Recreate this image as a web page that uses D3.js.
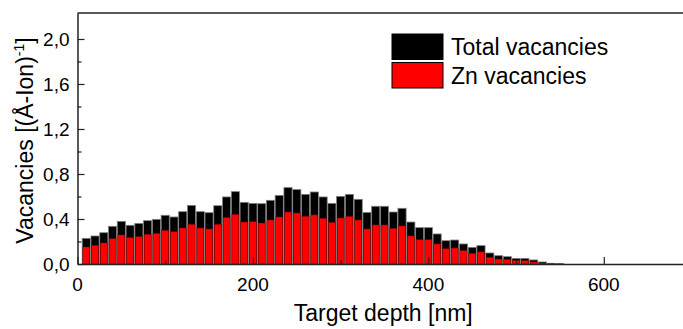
<!DOCTYPE html>
<html>
<head>
<meta charset="utf-8">
<script src="https://cdn.jsdelivr.net/npm/d3@7"></script>
<style>
  body { margin: 0; background: #fff; }
  svg { display: block; font-family: Arial, "Liberation Sans", sans-serif; }
</style>
</head>
<body>
<div id="chart"></div>
<script>
// depth bins [nm]
const depths = d3.range(1, 56).map(k => k * 10);
const totalVac = [0.228, 0.249, 0.278, 0.335, 0.379, 0.344, 0.361, 0.385, 0.397, 0.433,
  0.418, 0.465, 0.521, 0.465, 0.456, 0.518, 0.596, 0.643, 0.548, 0.539,
  0.536, 0.566, 0.610, 0.679, 0.661, 0.619, 0.640, 0.596, 0.539, 0.601,
  0.619, 0.575, 0.459, 0.513, 0.513, 0.462, 0.495, 0.373, 0.323, 0.323,
  0.267, 0.207, 0.213, 0.178, 0.148, 0.163, 0.098, 0.074, 0.065, 0.050,
  0.050, 0.036, 0.018, 0.006, 0.002];
const znVac = [0.151, 0.166, 0.187, 0.225, 0.258, 0.234, 0.243, 0.264, 0.272, 0.299,
  0.287, 0.320, 0.353, 0.320, 0.311, 0.353, 0.412, 0.441, 0.373, 0.376,
  0.364, 0.391, 0.418, 0.462, 0.453, 0.424, 0.436, 0.406, 0.370, 0.409,
  0.424, 0.391, 0.311, 0.347, 0.347, 0.317, 0.338, 0.249, 0.216, 0.216,
  0.178, 0.136, 0.142, 0.119, 0.095, 0.107, 0.059, 0.044, 0.041, 0.033,
  0.030, 0.018, 0.005, 0.002, 0.001];
const xMajor = [0, 200, 400, 600];
const xMinor = [100, 300, 500];
const yMajor = [0, 0.4, 0.8, 1.2, 1.6, 2.0];
const yMinor = [0.2, 0.6, 1.0, 1.4, 1.8];
const legendLabels = ["Total vacancies", "Zn vacancies"];
const legendColors = ["#000000", "#ff0000"];

const width = 683, height = 329;
const margin = { top: 13, left: 77.5, bottom: 65 };
const innerHeight = height - margin.top - margin.bottom;

const svg = d3.select("#chart").append("svg")
  .attr("width", width)
  .attr("height", height);

const x = d3.scaleLinear().domain([0, 700]).range([margin.left, margin.left + 614]);
const y = d3.scaleLinear().domain([0, 2.231]).range([margin.top + innerHeight, margin.top]);

const barW = x(9.3) - x(0);

// total bars (black), Zn bars (red) drawn over them
svg.append("g").selectAll("rect")
  .data(depths)
  .join("rect")
  .attr("x", (d, i) => x(d) - barW / 2)
  .attr("y", (d, i) => y(totalVac[i]))
  .attr("width", barW)
  .attr("height", (d, i) => y(0) - y(totalVac[i]))
  .attr("fill", "#000")
  .attr("stroke", "#808080")
  .attr("stroke-width", 0.8);

svg.append("g").selectAll("rect")
  .data(depths)
  .join("rect")
  .attr("x", (d, i) => x(d) - barW / 2 + 0.6)
  .attr("y", (d, i) => y(znVac[i]))
  .attr("width", barW - 1.2)
  .attr("height", (d, i) => y(0) - y(znVac[i]))
  .attr("fill", "#ff0000")
  .attr("stroke", "#7a0000")
  .attr("stroke-width", 0.5);

const fmt = d => d3.format(".1f")(d).replace(".", ",");

// axes (lines only), ticks pointing inward
function ticks(axis, vals, len) {
  return axis.tickValues(vals).tickSizeInner(-len).tickSizeOuter(0).tickFormat("");
}
const gx = svg.append("g").attr("transform", `translate(0,${y(0)})`).call(ticks(d3.axisBottom(x), xMajor, 7));
svg.append("g").attr("transform", `translate(0,${y(0)})`).call(ticks(d3.axisBottom(x), xMinor, 4))
  .select(".domain").remove();
svg.append("g").attr("transform", `translate(${x(0)},0)`).call(ticks(d3.axisLeft(y), yMajor, 7));
svg.append("g").attr("transform", `translate(${x(0)},0)`).call(ticks(d3.axisLeft(y), yMinor, 4))
  .select(".domain").remove();
svg.selectAll(".tick text").remove();

svg.selectAll(".domain").attr("stroke", "#222").attr("stroke-width", 1.5);
svg.selectAll(".tick line").attr("stroke", "#222").attr("stroke-width", 1.2);

// tick labels
svg.append("g").selectAll("text")
  .data(xMajor)
  .join("text")
  .attr("x", d => x(d))
  .attr("y", y(0) + 27)
  .attr("text-anchor", "middle")
  .attr("font-size", 19)
  .text(d => d);

svg.append("g").selectAll("text")
  .data(yMajor)
  .join("text")
  .attr("x", x(0) - 8)
  .attr("y", d => y(d) + 7)
  .attr("text-anchor", "end")
  .attr("font-size", 19)
  .text(fmt);

// top frame
svg.append("line")
  .attr("x1", x(0)).attr("x2", width)
  .attr("y1", y.range()[1]).attr("y2", y.range()[1])
  .attr("stroke", "#222").attr("stroke-width", 1.5);

// axis titles
svg.append("text")
  .attr("x", (x(0) + width) / 2 + 3)
  .attr("y", 321)
  .attr("text-anchor", "middle")
  .attr("font-size", 23)
  .text("Target depth [nm]");

const yt = svg.append("text")
  .attr("transform", `translate(33,${(y(0) + y.range()[1]) / 2 + 2}) rotate(-90)`)
  .attr("text-anchor", "middle")
  .attr("font-size", 23);
yt.append("tspan").text("Vacancies [(Å-Ion)");
yt.append("tspan").attr("font-size", 14).attr("dy", -9).text("-1");
yt.append("tspan").attr("dy", 9).text("]");

// legend
const legend = svg.append("g").attr("transform", "translate(392,34)");
legendLabels.forEach((lab, i) => {
  legend.append("rect")
    .attr("x", 0).attr("y", i * 28.5)
    .attr("width", 51).attr("height", 25.5)
    .attr("fill", legendColors[i])
    .attr("stroke", "#000").attr("stroke-width", 1);
  legend.append("text")
    .attr("x", 59).attr("y", i * 28.5 + 21)
    .attr("font-size", 23)
    .text(lab);
});
</script>
</body>
</html>
